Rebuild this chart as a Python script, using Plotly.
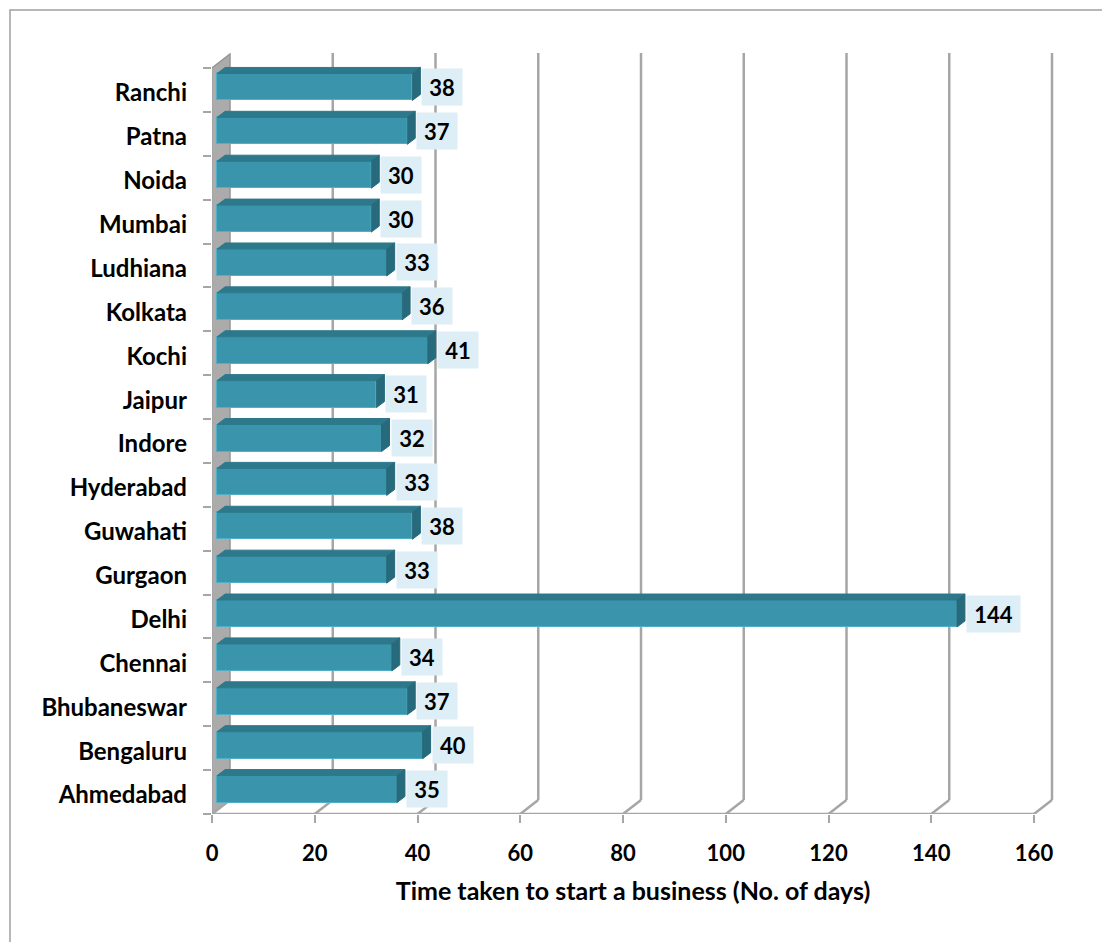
import plotly.graph_objects as go

# Cities bottom-to-top and days needed to start a business
cities = ["Ahmedabad", "Bengaluru", "Bhubaneswar", "Chennai", "Delhi", "Gurgaon",
          "Guwahati", "Hyderabad", "Indore", "Jaipur", "Kochi", "Kolkata",
          "Ludhiana", "Mumbai", "Noida", "Patna", "Ranchi"]
days = [35, 40, 37, 34, 144, 33, 38, 33, 32, 31, 41, 36, 33, 30, 30, 37, 38]
x_ticks = [0, 20, 40, 60, 80, 100, 120, 140, 160]
x_title = "Time taken to start a business (No. of days)"

FONT = "Lato"
GRID = "#A6A6A6"
FRONT = "#3A95AC"
TOP = "#2D798B"
SIDE = "#266A7B"
LABEL_BG = "#DDEEF6"

# pixel geometry of the plot box
W, H = 1102, 942
L, R, T, B = 212, 48, 53, 128
px_x = (1034 - 212) / 160.0          # pixels per day
px_y = (814 - 68) / 17.0             # pixels per category
x_max = (W - L - R) / px_x
y_min = -0.5
y_max = y_min + (H - T - B) / px_y

# depth of the back wall and of each bar (in data units)
wall_dx, wall_dy = 18 / px_x, 14 / px_y
bar_dx, bar_dy = 8 / px_x, 6 / px_y
bar_base = 1.0
bar_w = 27 / px_y
bar_lift = 3 / px_y
label_drop = 3 / px_y

idx = list(range(len(cities)))

fig = go.Figure()

# floor and wall outlines drawn as shapes in data space
shapes = []
# left wall slab
shapes.append(dict(type="path", xref="x", yref="y",
                   path=f"M 0 {y_min} L 0 {len(cities) - 0.5} L {wall_dx} {len(cities) - 0.5 + wall_dy} "
                        f"L {wall_dx} {y_min + wall_dy} Z",
                   fillcolor="#ABABAB", line=dict(color="#959595", width=1.5), layer="below"))
# back-wall gridlines and floor diagonals
for v in x_ticks:
    if v > 0:
        shapes.append(dict(type="line", xref="x", yref="y", x0=v + wall_dx, x1=v + wall_dx,
                           y0=y_min + wall_dy, y1=y_max, line=dict(color=GRID, width=2.5), layer="below"))
    shapes.append(dict(type="line", xref="x", yref="y", x0=v, x1=v + wall_dx,
                       y0=y_min, y1=y_min + wall_dy, line=dict(color=GRID, width=2.5), layer="below"))
# front floor edge and front wall edge
shapes.append(dict(type="line", xref="x", yref="y", x0=0, x1=x_ticks[-1], y0=y_min, y1=y_min,
                   line=dict(color=GRID, width=2.5), layer="below"))
shapes.append(dict(type="line", xref="x", yref="y", x0=0, x1=0, y0=y_min, y1=len(cities) - 0.5,
                   line=dict(color=GRID, width=2), layer="below"))
# outer chart frame
shapes.append(dict(type="rect", xref="paper", yref="paper",
                   x0=(10 - L) / (W - L - R), x1=(W + 20 - L) / (W - L - R),
                   y0=-(B + 20) / (H - T - B), y1=1 + (T - 10) / (H - T - B),
                   line=dict(color="#A0A0A0", width=1.5), layer="below"))

# front faces of the bars
fig.add_trace(go.Bar(
    y=idx, x=days, base=bar_base, orientation="h",
    width=bar_w, offset=-bar_w / 2 + bar_lift,
    marker=dict(color=FRONT, line=dict(color="#4FAFC6", width=1)),
    hoverinfo="skip", showlegend=False,
))

# top and side faces of the bars
top_x, top_y, side_x, side_y = [], [], [], []
for i, v in zip(idx, days):
    yb = i + bar_lift - bar_w / 2
    yt = i + bar_lift + bar_w / 2
    x0, x1 = bar_base, bar_base + v
    top_x += [x0, x1, x1 + bar_dx, x0 + bar_dx, x0, None]
    top_y += [yt, yt, yt + bar_dy, yt + bar_dy, yt, None]
    side_x += [x1, x1, x1 + bar_dx, x1 + bar_dx, x1, None]
    side_y += [yb, yt, yt + bar_dy, yb + bar_dy, yb, None]

fig.add_trace(go.Scatter(x=top_x, y=top_y, mode="lines", fill="toself", fillcolor=TOP,
                         line=dict(color=TOP, width=1), hoverinfo="skip", showlegend=False))
fig.add_trace(go.Scatter(x=side_x, y=side_y, mode="lines", fill="toself", fillcolor=SIDE,
                         line=dict(color=SIDE, width=1), hoverinfo="skip", showlegend=False))

# value labels in shaded boxes
annotations = []
for i, v in zip(idx, days):
    txt = str(v)
    annotations.append(dict(
        x=bar_base + v + bar_dx, y=i + bar_lift, xref="x", yref="y",
        text=txt, showarrow=False, xanchor="left", yanchor="middle", xshift=1,
        width=14 + 13 * len(txt), height=36, bgcolor=LABEL_BG, borderpad=0,
        font=dict(family=FONT, size=22, color="black", weight="bold"),
    ))

fig.update_layout(
    width=W, height=H,
    margin=dict(l=L, r=R, t=T, b=B),
    paper_bgcolor="white", plot_bgcolor="white",
    shapes=shapes, annotations=annotations,
    bargap=0,
    xaxis=dict(
        range=[0, x_max], tickvals=x_ticks, ticktext=[str(t) for t in x_ticks],
        ticks="outside", ticklen=8, tickwidth=2, tickcolor=GRID,
        showgrid=False, zeroline=False, showline=False,
        tickfont=dict(family=FONT, size=22, color="black", weight="bold"),
        ticklabelstandoff=12,
        title=dict(text=x_title, font=dict(family=FONT, size=25, color="black", weight="bold"),
                   standoff=17),
    ),
    yaxis=dict(
        range=[y_min, y_max], tickvals=[i - label_drop for i in idx], ticktext=cities,
        ticks="", showgrid=False, zeroline=False, showline=False,
        tickfont=dict(family=FONT, size=24, color="black", weight="bold"),
        ticklabelstandoff=24,
        minor=dict(tickvals=[i - 0.5 for i in range(len(cities) + 1)], ticks="outside",
                   ticklen=8, tickwidth=2, tickcolor=GRID, showgrid=False),
    ),
)

fig.write_html("out.html")
